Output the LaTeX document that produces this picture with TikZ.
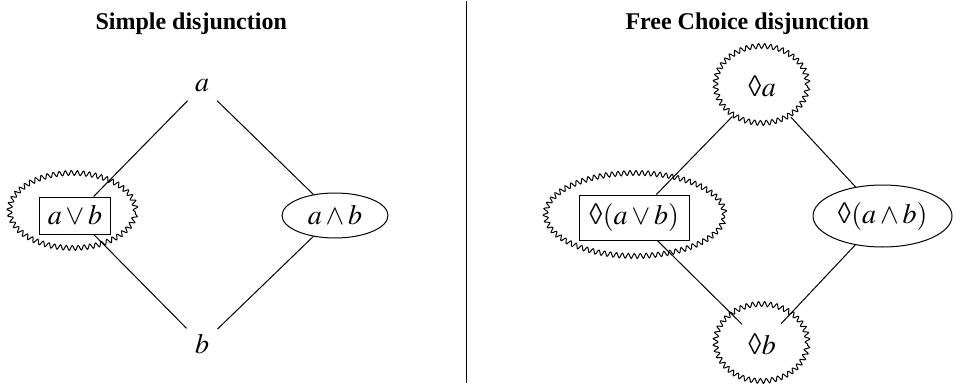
\documentclass[tikz,border=0pt]{standalone}
\usepackage{mathptmx}
\usepackage{fontspec}
\setmainfont{Liberation Serif}
\usetikzlibrary{shapes.geometric,decorations.pathmorphing}
\newcommand{\dia}{{\usefont{U}{psy}{m}{n}\char"E0}}
\begin{document}
\begin{tikzpicture}[x=0.5pt,y=-0.5pt,line width=0.5pt,
  lblfont/.style={font=\fontsize{14}{16}\selectfont},
  lbl/.style={lblfont,inner sep=4pt},
  ttl/.style={font=\fontsize{12}{14}\selectfont\bfseries,anchor=base west,inner sep=0pt},
  boxn/.style={draw,rectangle,inner sep=0pt,lblfont},
  ovaln/.style={draw,ellipse,inner sep=0pt,lblfont},
  hidn/.style={ellipse,inner sep=0pt,lblfont},
  wavy/.style={decorate,decoration={snake,segment length=3pt,amplitude=1.2pt}},
  conn/.style={line width=0.5pt}]
\useasboundingbox (0,0) rectangle (962,385);

% titles
\node[ttl] (t1) at (95,30) {Simple disjunction};
\node[ttl] (t2) at (625,30) {Free Choice disjunction};

% divider
\coordinate (d1) at (466,1);
\coordinate (d2) at (466,383);
\draw[conn] (d1) -- (d2);

% left panel
\node[lbl] (aL) at (202,86) {$a$};
\node[lbl] (bL) at (202,344) {$b$};
\node[boxn,minimum width=35.5pt,minimum height=18.5pt] (orL) at (75,215.5) {$a\vee b$};
\node[ovaln,minimum width=53pt,minimum height=22.5pt] (andL) at (335,215.5) {$a\wedge b$};
\draw[wavy] (72.5,212) ellipse [x radius=31.5pt,y radius=18.75pt];

\draw[conn] (aL) -- (orL);
\draw[conn] (aL) -- (andL);
\draw[conn] (orL) -- (bL);
\draw[conn] (andL) -- (bL);

% right panel
\node[hidn,minimum width=46.5pt,minimum height=39pt] (dA) at (762,86) {\dia$a$};
\node[hidn,minimum width=30pt,minimum height=25.5pt] (dB) at (762,344) {\dia$b$};
\node[boxn,minimum width=55pt,minimum height=22.5pt] (orR) at (634,217.5) {\dia$(a\vee b)$};
\node[ovaln,minimum width=69.5pt,minimum height=31pt] (andR) at (882.5,216) {\dia$(a\wedge b)$};
\draw[wavy] (761.5,86) ellipse [x radius=23pt,y radius=19.25pt];
\draw[wavy] (761.5,344) ellipse [x radius=23pt,y radius=19.25pt];
\draw[wavy] (635,216) ellipse [x radius=44.75pt,y radius=20.75pt];

\draw[conn] (dA) -- (orR);
\draw[conn] (dA) -- (andR);
\draw[conn] (orR) -- (dB);
\draw[conn] (andR) -- (dB);
\end{tikzpicture}
\end{document}
